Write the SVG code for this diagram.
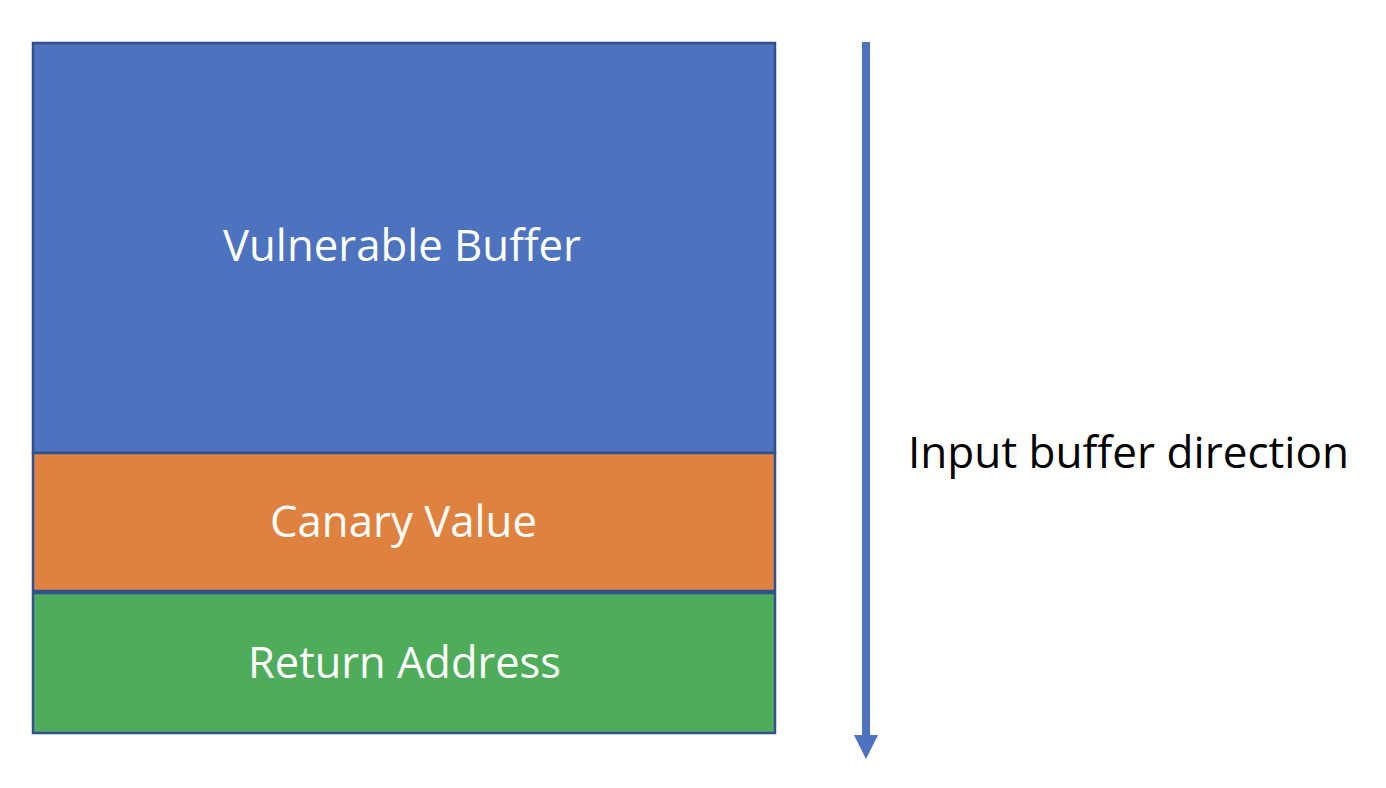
<svg xmlns="http://www.w3.org/2000/svg" width="1386" height="788" viewBox="0 0 1386 788">
<style>
.box{stroke:#2F528F;stroke-width:2.5}
.lbl{font-family:"Open Sans","Liberation Sans",sans-serif;font-size:44px;fill:#FFFFFF}
.side{font-family:"Open Sans","Liberation Sans",sans-serif;font-size:44px;fill:#000000}
</style>
<defs>
<marker id="head" viewBox="0 0 24 24" markerWidth="24" markerHeight="24" refX="0" refY="12" orient="auto" markerUnits="userSpaceOnUse">
<path d="M0,0 L24,12 L0,24 Z" fill="#4D73BE"/>
</marker>
</defs>
<rect width="1386" height="788" fill="#FFFFFF"/>
<g id="vulnerable-buffer">
<rect class="box" x="33" y="43" width="742" height="410" fill="#4D73BE"/>
<text class="lbl" x="223" y="261" textLength="358" lengthAdjust="spacingAndGlyphs">Vulnerable Buffer</text>
</g>
<g id="canary-value">
<rect class="box" x="33" y="453" width="742" height="138" fill="#E0823F"/>
<text class="lbl" x="270" y="537" textLength="267" lengthAdjust="spacingAndGlyphs">Canary Value</text>
</g>
<g id="return-address">
<rect class="box" x="33" y="593" width="742" height="140" fill="#4FAC5B"/>
<text class="lbl" x="248" y="678" textLength="313" lengthAdjust="spacingAndGlyphs">Return Address</text>
</g>
<g id="connectors">
<line x1="866" y1="42" x2="866" y2="735" stroke="#4D73BE" stroke-width="8" marker-end="url(#head)"/>
</g>
<g id="direction-label">
<text class="side" x="908" y="468" textLength="441" lengthAdjust="spacingAndGlyphs">Input buffer direction</text>
</g>
</svg>
